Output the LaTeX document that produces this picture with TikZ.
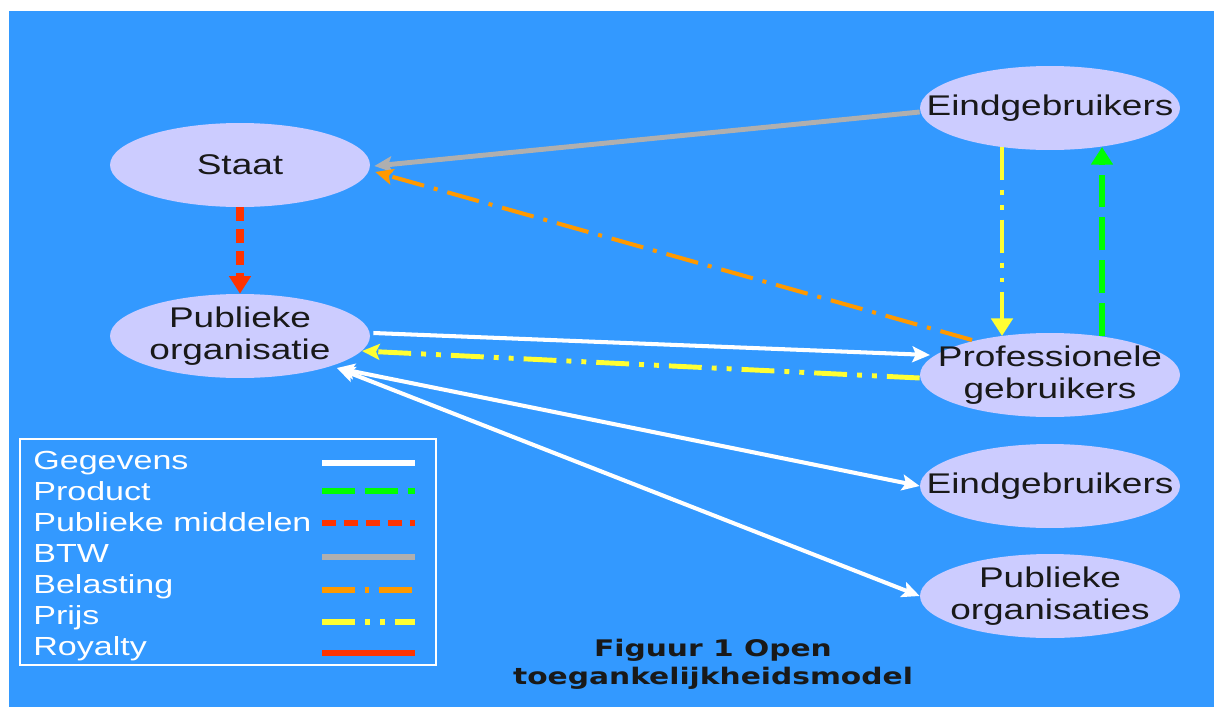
\documentclass[tikz,border=0pt]{standalone}
\usepackage{fontspec}
\setmainfont{Liberation Sans}[FakeStretch=1.3]
\newfontfamily\capfont{DejaVu Sans}[FakeStretch=1.3]
\usetikzlibrary{shapes.geometric,arrows.meta,calc}
\definecolor{bg}{HTML}{3399FF}
\definecolor{ell}{HTML}{CCCCFF}
\definecolor{prodcol}{HTML}{00FF00}
\definecolor{pubcol}{HTML}{FF3300}
\definecolor{btwcol}{HTML}{AFAFAF}
\definecolor{belcol}{HTML}{FF9900}
\definecolor{prijscol}{HTML}{FFFF33}
\definecolor{roycol}{HTML}{FF3300}
\tikzset{
  ent/.style={ellipse, fill=ell, minimum width=5.2cm, minimum height=1.68cm, inner sep=0pt},
  lbl/.style={font=\fontsize{16.2}{18}\selectfont, align=center, text=black!90},
  legtext/.style={font=\fontsize{14.9}{16}\selectfont, text=white, inner sep=0pt, anchor=base west},
  captext/.style={font=\capfont\bfseries\fontsize{13}{16}\selectfont, text=black!90, inner sep=0pt, anchor=base},
  gegevens/.style={draw=white, line width=2.3pt},
  product/.style={draw=prodcol, line width=3.4pt, dash pattern=on 18.7pt off 5.7pt},
  publiek/.style={draw=pubcol, line width=4pt, dash pattern=on 8pt off 4.5pt},
  btw/.style={draw=btwcol, line width=2.8pt},
  belasting/.style={draw=belcol, line width=2.3pt, dash pattern=on 18.7pt off 5.7pt on 2.3pt off 5.7pt},
  prijs/.style={draw=prijscol, line width=2.8pt, dash pattern=on 18.7pt off 5.7pt on 2.8pt off 5.7pt on 2.8pt off 5.7pt},
  royalty/.style={draw=roycol, line width=2.8pt},
  arr/.style={-{Stealth[length=10pt,width=9pt,inset=2pt]}},
  bigarr/.style={-{Triangle[length=10pt,width=12pt]}},
  dblarr/.style={{Stealth[length=10pt,width=9pt,inset=2pt]}-{Stealth[length=10pt,width=9pt,inset=2pt]}},
}
\begin{document}
\begin{tikzpicture}[x=0.02cm,y=-0.02cm]
\useasboundingbox (0,0) rectangle (1214,707);
\fill[white] (0,0) rectangle (1214,707);
\fill[bg] (9,11) rectangle (1214,707);

% entities
\node[ent, label={[lbl]center:Staat}] (staat) at (240,165) {};
\node[ent, label={[lbl]center:{Publieke\\organisatie}}] (po) at (240,336) {};
\node[ent, label={[lbl]center:Eindgebruikers}] (eind1) at (1050,108) {};
\node[ent, label={[lbl]center:{Professionele\\gebruikers}}] (prof) at (1050,375) {};
\node[ent, label={[lbl]center:Eindgebruikers}] (eind2) at (1050,486) {};
\node[ent, label={[lbl]center:{Publieke\\organisaties}}] (po2) at (1050,596) {};

% connectors
\draw[btw, arr] ($(eind1.west)+(0,4)$) -- ($(staat.east)+(4,1)$);
\draw[belasting, arr] ($(prof.center)+(-78,-35)$) -- ($(staat.east)+(5,7)$);
\draw[publiek, bigarr] (staat.south) -- (po.north);
\draw[prijs, bigarr] ($(eind1.center)+(-48,39)$) -- ($(prof.center)+(-48,-39)$);
\draw[product, bigarr] ($(prof.center)+(52,-39)$) -- ($(eind1.center)+(52,39)$);
\draw[gegevens, arr] ($(po.east)+(3,-3)$) -- ($(prof.center)+(-120,-20)$);
\draw[prijs, arr] ($(prof.west)+(0,3)$) -- ($(po.center)+(122,15)$);
\draw[gegevens, dblarr] ($(po.center)+(97,32)$) -- (eind2.west);
\draw[gegevens, dblarr] ($(po.center)+(97,32)$) -- (po2.west);

% legend
\draw[white, line width=0.7pt] (20,439) rectangle (436,665);
\foreach \t/\s/\ly/\ty in {Gegevens/gegevens/463/469, Product/product/491/500,
  Publieke middelen/publiek/523/531, BTW/btw/557/562, Belasting/belasting/590/593,
  Prijs/prijs/622/624, Royalty/royalty/653/655} {
  \node[legtext] (leg-\s) at (33,\ty) {\t};
  \draw[\s, line width=3pt] (322,\ly) -- (415,\ly);
}

% caption
\node[captext] (cap1) at (713,656) {Figuur 1 Open};
\node[captext] (cap2) at (713,684) {toegankelijkheidsmodel};
\end{tikzpicture}
\end{document}
